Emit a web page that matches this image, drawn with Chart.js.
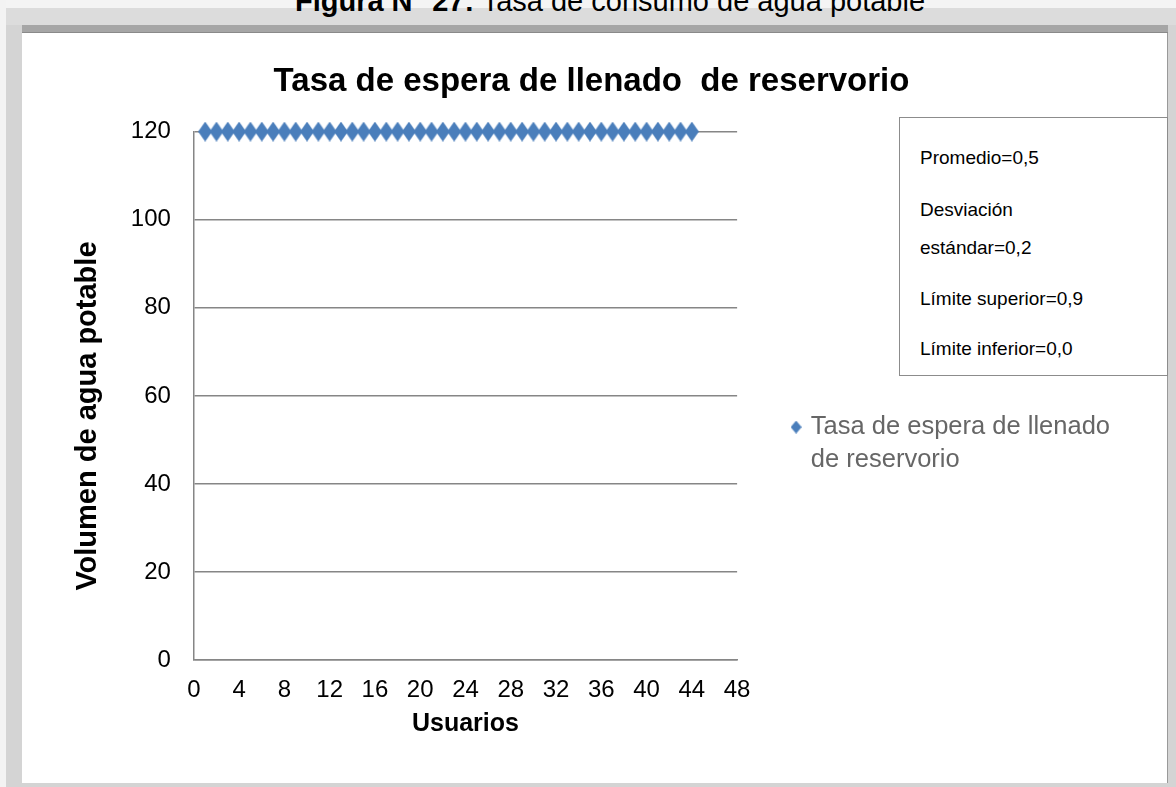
<!DOCTYPE html>
<html>
<head>
<meta charset="utf-8">
<script src="https://cdn.jsdelivr.net/npm/chart.js@4.4.1/dist/chart.umd.min.js"></script>
<style>
  body { margin: 0; width: 1176px; height: 787px; overflow: hidden; position: relative; background: #d4d4d4; font-family: 'Liberation Sans', Arial, sans-serif; }
  #topLight { position: absolute; left: 0; top: 0; width: 1176px; height: 8px; background: #f4f4f4; }
  #topBand { position: absolute; left: 6px; top: 8px; width: 1170px; height: 17px; background: #dcdcdc; }
  #topDark { position: absolute; left: 22px; top: 25px; width: 1146px; height: 7px; background: #a6a6a6; border-bottom: 1px solid #8a8a8a; }
  #leftLight { position: absolute; left: 0; top: 0; width: 6px; height: 787px; background: #f3f3f3; }
  #caption { position: absolute; left: 44px; top: -15px; width: 1132px; text-align: center; font-size: 29px; line-height: 32px; color: #000; white-space: nowrap; }
  #frame { position: absolute; left: 22px; top: 33px; width: 1145px; height: 750px; background: #fff; border-right: 1px solid #999; }
  #chartBox { position: absolute; left: 22px; top: 33px; width: 1145px; height: 750px; }
  #stats { position: absolute; left: 899px; top: 117px; width: 267px; height: 257px; border: 1px solid #8c8c8c; background: #fff; }
  #stats div { position: absolute; left: 20px; font-size: 19px; line-height: 22px; color: #000; white-space: nowrap; }
</style>
</head>
<body>
<div id="topLight"></div>
<div id="topBand"></div>
<div id="leftLight"></div>
<div id="caption"><b>Figura N° 27:</b> Tasa de consumo de agua potable</div>
<div id="topDark"></div>
<div id="frame"></div>
<div id="chartBox"><canvas id="chartTasa" width="1145" height="750"></canvas></div>
<div id="stats"></div>

<script>
// datos
const usuarios = [1, 2, 3, 4, 5, 6, 7, 8, 9, 10, 11, 12, 13, 14, 15, 16, 17, 18, 19, 20, 21, 22,
  23, 24, 25, 26, 27, 28, 29, 30, 31, 32, 33, 34, 35, 36, 37, 38, 39, 40, 41, 42, 43, 44];
const tasaEspera = [120, 120, 120, 120, 120, 120, 120, 120, 120, 120, 120, 120, 120, 120, 120, 120, 120, 120, 120, 120, 120, 120,
  120, 120, 120, 120, 120, 120, 120, 120, 120, 120, 120, 120, 120, 120, 120, 120, 120, 120, 120, 120, 120, 120];
const xTicks = [0, 4, 8, 12, 16, 20, 24, 28, 32, 36, 40, 44, 48];
const yTicks = [0, 20, 40, 60, 80, 100, 120];
const serieNombre = ['Tasa de espera de llenado', 'de reservorio'];
const estadisticas = ['Promedio=0,5', 'Desviación', 'estándar=0,2', 'Límite superior=0,9', 'Límite inferior=0,0'];
const statsTop = [29, 81, 119, 170, 220];

const AZUL = '#4A7EBB';
const GRIS = '#868686';
const FONT = 'Liberation Sans';

function makeDiamond(w, h, color) {
  const c = document.createElement('canvas');
  c.width = w;
  c.height = h;
  const g = c.getContext('2d');
  g.fillStyle = color;
  g.beginPath();
  g.moveTo(w / 2, 0);
  g.lineTo(w, h / 2);
  g.lineTo(w / 2, h);
  g.lineTo(0, h / 2);
  g.closePath();
  g.fill();
  return c;
}

const bigDiamond = makeDiamond(14, 20, AZUL);
const smallDiamond = makeDiamond(11, 13, AZUL);

// cuadro de estadisticas
const statsEl = document.getElementById('stats');
estadisticas.forEach((t, i) => {
  const d = document.createElement('div');
  d.textContent = t;
  d.style.top = statsTop[i] + 'px';
  statsEl.appendChild(d);
});

const ctx = document.getElementById('chartTasa').getContext('2d');
new Chart(ctx, {
  type: 'scatter',
  data: {
    datasets: [{
      label: serieNombre.join(' '),
      data: usuarios.map((u, i) => ({ x: u, y: tasaEspera[i] })),
      pointStyle: bigDiamond,
      pointRadius: 7,
      backgroundColor: AZUL,
      borderColor: AZUL,
      clip: false
    }]
  },
  options: {
    responsive: false,
    animation: false,
    devicePixelRatio: 1,
    layout: { padding: { left: 41, right: 47, top: 0, bottom: 44 } },
    plugins: {
      tooltip: { enabled: false },
      title: {
        display: true,
        text: 'Tasa de espera de llenado  de reservorio',
        color: '#000',
        font: { family: FONT, size: 33, weight: 'bold' },
        padding: { top: 29, bottom: 30 }
      },
      legend: {
        position: 'right',
        align: 'center',
        maxWidth: 1000,
        // titulo vacio: solo baja la leyenda hasta su altura en el original
        title: { display: true, text: '', font: { size: 10 }, padding: { top: 111, bottom: 0 } },
        labels: {
          usePointStyle: true,
          boxWidth: 4,
          padding: 57,
          color: '#404040',
          font: { family: FONT, size: 25.5, lineHeight: 1.3 },
          generateLabels: () => [{
            text: serieNombre,
            pointStyle: smallDiamond,
            fillStyle: AZUL,
            strokeStyle: AZUL,
            lineWidth: 0,
            hidden: false,
            datasetIndex: 0
          }]
        }
      }
    },
    scales: {
      x: {
        type: 'linear',
        min: xTicks[0],
        max: xTicks[xTicks.length - 1],
        afterBuildTicks: s => { s.ticks = xTicks.map(v => ({ value: v })); },
        grid: { display: false, drawTicks: false },
        border: { display: true, color: GRIS, width: 1.5 },
        ticks: {
          color: '#000',
          padding: 16,
          maxRotation: 0,
          autoSkip: false,
          font: { family: FONT, size: 24 }
        },
        title: {
          display: true,
          text: 'Usuarios',
          color: '#000',
          font: { family: FONT, size: 25, weight: 'bold' },
          padding: { top: -12, bottom: 0 }
        }
      },
      y: {
        min: yTicks[0],
        max: yTicks[yTicks.length - 1],
        afterBuildTicks: s => { s.ticks = yTicks.map(v => ({ value: v })); },
        grid: { color: GRIS, lineWidth: 1.5, drawTicks: false },
        border: { display: true, color: GRIS, width: 1.5 },
        ticks: {
          color: '#000',
          padding: 23,
          font: { family: FONT, size: 24 }
        },
        title: {
          display: true,
          text: 'Volumen de agua potable     ',
          color: '#000',
          font: { family: FONT, size: 29, weight: 'bold' },
          padding: { top: 8, bottom: 2 }
        }
      }
    }
  }
});
</script>
</body>
</html>
